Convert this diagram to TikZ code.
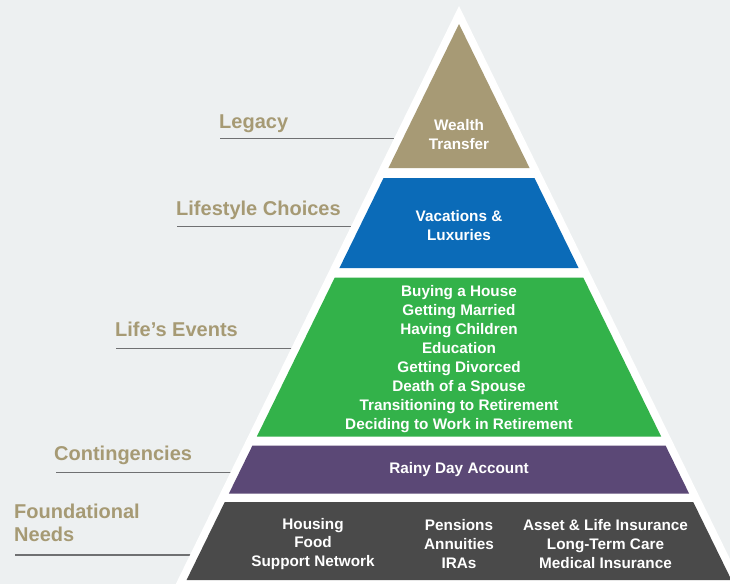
\documentclass[tikz,border=0pt]{standalone}
\usepackage{fontspec}
\setmainfont{Liberation Sans}
\definecolor{pagebg}{HTML}{EDF0F1}
\definecolor{goldband}{HTML}{A79A75}
\definecolor{goldtext}{HTML}{A69A74}
\definecolor{blueband}{HTML}{0B6BB8}
\definecolor{greenband}{HTML}{33B24A}
\definecolor{purpleband}{HTML}{5B4876}
\definecolor{greyband}{HTML}{4A4A4A}
\definecolor{leadergrey}{HTML}{6F7072}

% One horizontal slice of the pyramid: top y, bottom y, fill colour
\newcommand\pyrband[3]{%
  \pgfmathsetmacro\hwtop{0.49*(#1-24)}%
  \pgfmathsetmacro\hwbot{0.49*(#2-24)}%
  \fill[#3] ({459-\hwtop},#1) -- ({459+\hwtop},#1) -- ({459+\hwbot},#2) -- ({459-\hwbot},#2) -- cycle;%
}

\begin{document}
\begin{tikzpicture}[x=1pt,y=-1pt,
  bandtext/.style={text=white, align=center, inner sep=0pt,
    font=\fontsize{15.3}{18.9}\selectfont\bfseries},
  tierlabel/.style={text=goldtext, anchor=base west, inner sep=0pt, align=left,
    font=\fontsize{20}{23.7}\selectfont\bfseries},
  leader/.style={draw=leadergrey, line width=1.5pt}]

\useasboundingbox (0,0) rectangle (730,584);
\fill[pagebg] (0,0) rectangle (730,584);

% tier labels with their leader lines
\node[tierlabel] (legacy) at (219,128.3) {Legacy};
\node[tierlabel] (lifestyle) at (176,215) {Lifestyle Choices};
\node[tierlabel] (events) at (115,336.7) {Life’s Events};
\node[tierlabel] (contingencies) at (54,460.7) {Contingencies};
\node[tierlabel] (foundational) at (14,541.7) {Foundational\\Needs};

\coordinate (legacyEnd) at (400,138.5);
\coordinate (lifestyleEnd) at (356,226.7);
\coordinate (eventsEnd) at (297,348.3);
\coordinate (contingenciesEnd) at (236,472.3);
\coordinate (foundationalEnd) at (196,555);

\draw[leader] ([xshift=1pt]legacy.west |- legacyEnd) -- (legacyEnd);
\draw[leader] ([xshift=1pt]lifestyle.west |- lifestyleEnd) -- (lifestyleEnd);
\draw[leader] ([xshift=1pt]events.west |- eventsEnd) -- (eventsEnd);
\draw[leader] ([xshift=2pt]contingencies.west |- contingenciesEnd) -- (contingenciesEnd);
\draw[leader] ([xshift=1pt]foundational.west |- foundationalEnd) -- (foundationalEnd);

% white outline of the pyramid
\fill[white] (459,6) -- ({459+0.49*590},596) -- ({459-0.49*590},596) -- cycle;

% coloured tiers
\fill[goldband] (459,24) -- ({459+0.49*144},168) -- ({459-0.49*144},168) -- cycle;
\pyrband{178}{268}{blueband}
\pyrband{277.5}{436.5}{greenband}
\pyrband{445.5}{493.5}{purpleband}
\pyrband{502}{580}{greyband}

% tier contents
\node[bandtext] (wealth) at (459,134.3) {Wealth\\Transfer};
\node[bandtext] (vacations) at (459,225.5) {Vacations \&\\Luxuries};
\node[bandtext] (lifeevents) at (459,359) {Buying a House\\Getting Married\\Having Children\\Education\\Getting Divorced\\Death of a Spouse\\Transitioning to Retirement\\Deciding to Work in Retirement};
\node[bandtext] (rainy) at (459,470) {Rainy Day Account};
\node[bandtext] (basics) at (313,544) {Housing\\Food\\Support Network};
\node[bandtext] (income) at (459,544) {Pensions\\Annuities\\IRAs};
\node[bandtext] (cover) at (605.5,544) {Asset \& Life Insurance\\Long-Term Care\\Medical Insurance};
\end{tikzpicture}
\end{document}
